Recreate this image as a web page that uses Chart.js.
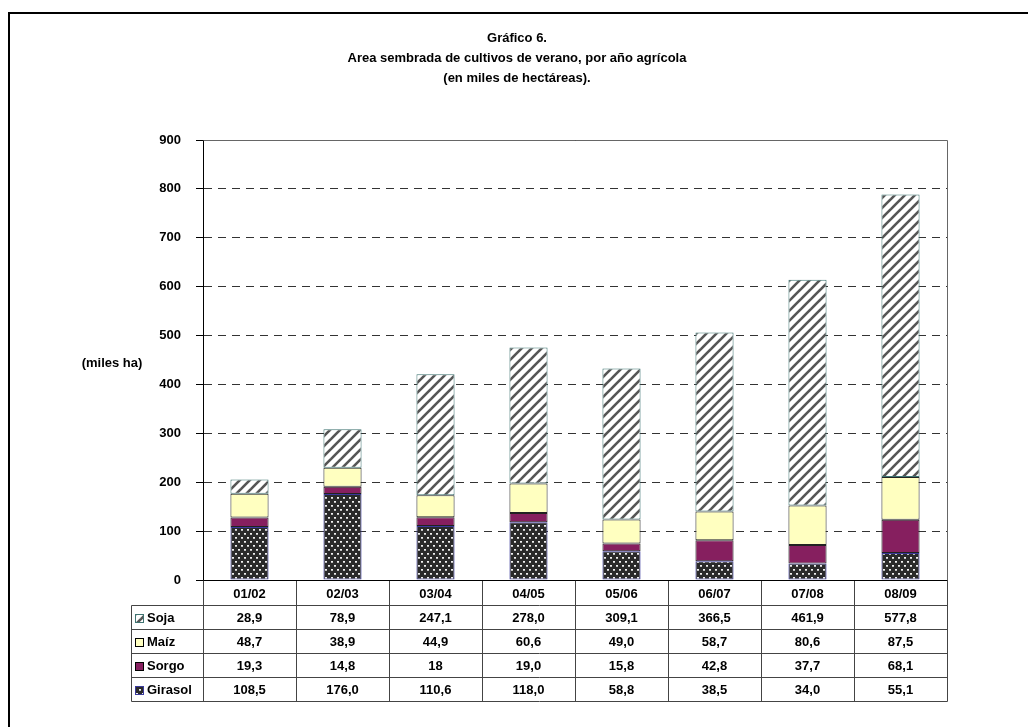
<!DOCTYPE html>
<html>
<head>
<meta charset="utf-8">
<script src="https://cdn.jsdelivr.net/npm/chart.js@4"></script>
<style>
  html, body { margin: 0; padding: 0; background: #fff; }
</style>
</head>
<body>
<canvas id="chart" width="1028" height="727"></canvas>
<script>
const years = ['01/02', '02/03', '03/04', '04/05', '05/06', '06/07', '07/08', '08/09'];
const sojaTxt = ['28,9', '78,9', '247,1', '278,0', '309,1', '366,5', '461,9', '577,8'];
const maizTxt = ['48,7', '38,9', '44,9', '60,6', '49,0', '58,7', '80,6', '87,5'];
const sorgoTxt = ['19,3', '14,8', '18', '19,0', '15,8', '42,8', '37,7', '68,1'];
const girasolTxt = ['108,5', '176,0', '110,6', '118,0', '58,8', '38,5', '34,0', '55,1'];
const yMin = 0, yMax = 900, yStep = 100;

const toNum = arr => arr.map(s => parseFloat(s.replace(',', '.')));

const FONT = '"Liberation Sans", Arial, sans-serif';

// patterns
function sojaPattern() {
  const c = document.createElement('canvas');
  c.width = 10; c.height = 10;
  const g = c.getContext('2d');
  g.fillStyle = '#fff';
  g.fillRect(0, 0, 10, 10);
  g.strokeStyle = '#555';
  g.lineWidth = 2.6;
  [-10, 0, 10].forEach(ox => {
    g.beginPath();
    g.moveTo(ox - 1, 11);
    g.lineTo(ox + 11, -1);
    g.stroke();
  });
  return g.createPattern(c, 'repeat');
}

function girasolPattern() {
  const c = document.createElement('canvas');
  c.width = 6; c.height = 8;
  const g = c.getContext('2d');
  g.fillStyle = '#2a2a2a';
  g.fillRect(0, 0, 6, 8);
  g.fillStyle = '#bdbdbd';
  g.fillRect(1, 1, 2, 2);
  g.fillRect(4, 5, 2, 2);
  g.fillStyle = '#f0f0f0';
  g.fillRect(1, 1, 2, 1);
  g.fillRect(4, 5, 2, 1);
  return g.createPattern(c, 'repeat');
}

const sojaFill = sojaPattern();
const girasolFill = girasolPattern();

const series = [
  { label: 'Girasol', txt: girasolTxt, fill: girasolFill, border: '#3a3a9c' },
  { label: 'Sorgo', txt: sorgoTxt, fill: '#861f5f', border: '#222' },
  { label: 'Maíz', txt: maizTxt, fill: '#ffffc0', border: '#222' },
  { label: 'Soja', txt: sojaTxt, fill: sojaFill, border: '#3f7472' }
];

// tabla de datos bajo el grafico + bordes
const tablePlugin = {
  id: 'dataTable',
  afterDraw(chart) {
    const ctx = chart.ctx;
    const a = chart.chartArea;
    const n = years.length;
    const colW = (a.right - a.left) / n;
    const headH = 25, rowH = 24;
    const legL = 131.5;
    const L = Math.round(a.left) + 0.5, R = Math.round(a.right) + 0.5;
    const T = Math.round(a.bottom) + 0.5;
    const rowsTop = T + headH;
    const bottom = rowsTop + rowH * 4;

    ctx.save();
    // marco del area de trazado
    ctx.strokeStyle = '#666';
    ctx.lineWidth = 1;
    ctx.beginPath();
    ctx.moveTo(L, Math.round(a.top) + 0.5);
    ctx.lineTo(R, Math.round(a.top) + 0.5);
    ctx.lineTo(R, T);
    ctx.stroke();

    // lineas de la tabla
    ctx.strokeStyle = '#444';
    ctx.beginPath();
    for (let r = 0; r <= 4; r++) {
      const y = rowsTop + r * rowH;
      ctx.moveTo(legL, y);
      ctx.lineTo(R, y);
    }
    ctx.moveTo(legL, rowsTop);
    ctx.lineTo(legL, bottom);
    for (let i = 0; i <= n; i++) {
      const x = Math.round(a.left + i * colW) + 0.5;
      ctx.moveTo(x, T);
      ctx.lineTo(x, bottom);
    }
    ctx.stroke();
    ctx.strokeStyle = '#000';
    ctx.beginPath();
    ctx.moveTo(L, T);
    ctx.lineTo(R, T);
    ctx.stroke();

    ctx.fillStyle = '#000';
    ctx.font = 'bold 13px ' + FONT;
    ctx.textAlign = 'center';
    ctx.textBaseline = 'middle';
    const xs = chart.scales.x;
    years.forEach((yr, i) => {
      ctx.fillText(yr, xs.getPixelForValue(i), T + headH / 2 + 1);
    });
    const rows = series.slice().reverse();
    rows.forEach((s, r) => {
      const cy = rowsTop + r * rowH + rowH / 2 + 1;
      s.txt.forEach((t, i) => {
        ctx.fillText(t, xs.getPixelForValue(i), cy);
      });
      // clave de leyenda
      ctx.fillStyle = s.fill;
      ctx.fillRect(135, Math.round(cy) - 5, 9, 9);
      ctx.strokeStyle = s.border === '#222' ? '#000' : s.border;
      ctx.strokeRect(135.5, Math.round(cy) - 4.5, 8, 8);
      ctx.fillStyle = '#000';
      ctx.textAlign = 'left';
      ctx.fillText(s.label, 147, cy);
      ctx.textAlign = 'center';
    });

    // titulo del eje y
    ctx.textAlign = 'center';
    ctx.fillText('(miles ha)', a.left - 91, (a.top + a.bottom) / 2 + 3);

    // marco exterior
    ctx.strokeStyle = '#000';
    ctx.lineWidth = 2;
    ctx.beginPath();
    ctx.moveTo(9, chart.height);
    ctx.lineTo(9, 13);
    ctx.lineTo(chart.width, 13);
    ctx.stroke();
    ctx.restore();
  }
};

const ctx = document.getElementById('chart').getContext('2d');
const chart = new Chart(ctx, {
  type: 'bar',
  data: {
    labels: years,
    datasets: series.map(s => ({
      label: s.label,
      data: toNum(s.txt),
      backgroundColor: s.fill,
      borderColor: s.border,
      borderWidth: 1,
      borderSkipped: false
    }))
  },
  options: {
    responsive: false,
    animation: false,
    layout: { padding: { top: 28, left: 87, right: 81, bottom: 147 } },
    plugins: {
      legend: { display: false },
      tooltip: { enabled: false },
      title: {
        display: true,
        text: ['Gráfico 6.', 'Area sembrada de cultivos de verano, por año agrícola', '(en miles de hectáreas).'],
        color: '#000',
        font: { family: FONT, size: 13, weight: 'bold', lineHeight: 20 / 13 },
        padding: { top: 0, bottom: 52 }
      }
    },
    datasets: {
      bar: { categoryPercentage: 1, barPercentage: 0.41 }
    },
    scales: {
      x: {
        stacked: true,
        display: false
      },
      y: {
        stacked: true,
        min: yMin,
        max: yMax,
        afterFit(scale) { scale.width = 116; },
        ticks: {
          stepSize: yStep,
          color: '#000',
          padding: 15,
          font: { family: FONT, size: 13, weight: 'bold' }
        },
        grid: {
          color: '#333',
          tickColor: '#000',
          tickLength: 7,
          lineWidth: 1
        },
        border: { display: true, color: '#000', width: 1, dash: [8, 6] }
      }
    }
  },
  plugins: [tablePlugin]
});
</script>
</body>
</html>
